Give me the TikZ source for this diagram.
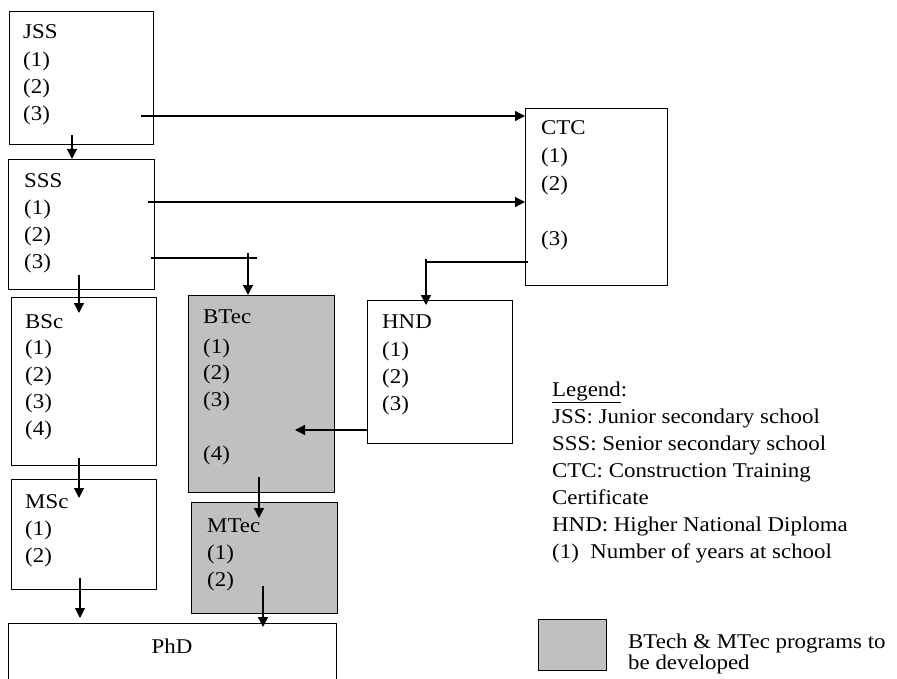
\documentclass[tikz,border=0pt]{standalone}
\usepackage{fontspec}
\setmainfont{Liberation Serif}[FakeStretch=1.09]
\usetikzlibrary{arrows.meta}
\newcommand\fs{\fontsize{21}{27}\selectfont}
\definecolor{boxgray}{HTML}{C0C0C0}
\tikzset{
  box/.style={draw, line width=1.3pt, inner sep=0pt, anchor=north west},
  gbox/.style={box, fill=boxgray},
  txt/.style={anchor=base west, inner sep=0pt, font=\fs},
  arr/.style={line width=1.3pt, -{Triangle[length=10pt,width=10pt]}},
  ln/.style={line width=1.3pt}
}
\begin{document}
\begin{tikzpicture}[x=1pt,y=-1pt]
\useasboundingbox (0,0) rectangle (897,679);
\clip (0,0) rectangle (897,679);
% boxes
\node[box, minimum width=144pt, minimum height=133pt] (jss) at (9,11) {};
\node[box, minimum width=146pt, minimum height=130pt] (sss) at (8,159) {};
\node[box, minimum width=145pt, minimum height=168pt] (bsc) at (11,297) {};
\node[box, minimum width=145pt, minimum height=110pt] (msc) at (11,479) {};
\node[box, minimum width=328pt, minimum height=80pt] (phd) at (8,623) {};
\node[gbox, minimum width=146pt, minimum height=197pt] (btec) at (188,295) {};
\node[gbox, minimum width=146pt, minimum height=111pt] (mtec) at (191,502) {};
\node[box, minimum width=142pt, minimum height=177pt] (ctc) at (525,108) {};
\node[box, minimum width=145pt, minimum height=143pt] (hnd) at (367,300) {};
\node[gbox, minimum width=68pt, minimum height=51pt] (legbox) at (538,619) {};
% texts
\node[txt] (jss0) at (23,39) {JSS};
\node[txt] (jss1) at (23,67) {(1)};
\node[txt] (jss2) at (23,94) {(2)};
\node[txt] (jss3) at (23,121) {(3)};
\node[txt] (sss0) at (24,188) {SSS};
\node[txt] (sss1) at (24,215) {(1)};
\node[txt] (sss2) at (24,242) {(2)};
\node[txt] (sss3) at (24,269) {(3)};
\node[txt] (bsc0) at (25,328) {BSc};
\node[txt] (bsc1) at (25,354) {(1)};
\node[txt] (bsc2) at (25,381) {(2)};
\node[txt] (bsc3) at (25,408) {(3)};
\node[txt] (bsc4) at (25,435) {(4)};
\node[txt] (msc0) at (25,508) {MSc};
\node[txt] (msc1) at (25,535) {(1)};
\node[txt] (msc2) at (25,562) {(2)};
\node[anchor=base, inner sep=0pt, font=\fs] (phd0) at (172,653) {PhD};
\node[txt] (btec0) at (203,323) {BTec};
\node[txt] (btec1) at (203,353) {(1)};
\node[txt] (btec2) at (203,379) {(2)};
\node[txt] (btec3) at (203,406) {(3)};
\node[txt] (btec4) at (203,460) {(4)};
\node[txt] (mtec0) at (207,532) {MTec};
\node[txt] (mtec1) at (207,559) {(1)};
\node[txt] (mtec2) at (207,586) {(2)};
\node[txt] (ctc0) at (541,135) {CTC};
\node[txt] (ctc1) at (541,163) {(1)};
\node[txt] (ctc2) at (541,191) {(2)};
\node[txt] (ctc3) at (541,246) {(3)};
\node[txt] (hnd0) at (382,328) {HND};
\node[txt] (hnd1) at (382,356) {(1)};
\node[txt] (hnd2) at (382,383) {(2)};
\node[txt] (hnd3) at (382,410) {(3)};
% legend
\node[txt] (lg0) at (552,396) {\underline{Legend}:};
\node[txt] (lg1) at (552,423) {JSS: Junior secondary school};
\node[txt] (lg2) at (552,450) {SSS: Senior secondary school};
\node[txt] (lg3) at (552,477) {CTC: Construction Training};
\node[txt] (lg4) at (552,504) {Certificate};
\node[txt] (lg5) at (552,531) {HND: Higher National Diploma};
\node[txt] (lg6) at (552,558) {(1)\hspace{0.55em}Number of years at school};
\node[txt] (lg7) at (628,648) {BTech \& MTec programs to};
\node[txt] (lg8) at (628,669) {be developed};
% connector ends
\coordinate (a1) at (72,135);
\coordinate (a2) at (141,116);
\coordinate (a3) at (148,202);
\coordinate (a4s) at (151,258);
\coordinate (a4e) at (257,258);
\coordinate (a4) at (248,253);
\coordinate (a5) at (79,275);
\coordinate (a5e) at (79,313);
\coordinate (a6s) at (528,262);
\coordinate (a6m) at (426,262);
\coordinate (a6) at (426,259);
\coordinate (a6e) at (426,305);
\coordinate (a7e) at (295,430);
\coordinate (a8) at (79,458);
\coordinate (a8e) at (79,498);
\coordinate (a9) at (259,477);
\coordinate (a9e) at (259,518);
\coordinate (a10) at (80,578);
\coordinate (a10e) at (80,618);
\coordinate (a11) at (263,586);
\coordinate (a11e) at (263,627);
% connectors
\draw[arr] (a1) -- (a1 |- sss.north);
\draw[arr] (a2) -- (a2 -| ctc.west);
\draw[arr] (a3) -- (a3 -| ctc.west);
\draw[ln] (a4s) -- (a4e);
\draw[arr] (a4) -- (a4 |- btec.north);
\draw[arr] (a5) -- (a5e);
\draw[ln] (a6s) -- (a6m);
\draw[arr] (a6) -- (a6e);
\draw[arr] (a7e -| hnd.west) -- (a7e);
\draw[arr] (a8) -- (a8e);
\draw[arr] (a9) -- (a9e);
\draw[arr] (a10) -- (a10e);
\draw[arr] (a11) -- (a11e);
\end{tikzpicture}
\end{document}
